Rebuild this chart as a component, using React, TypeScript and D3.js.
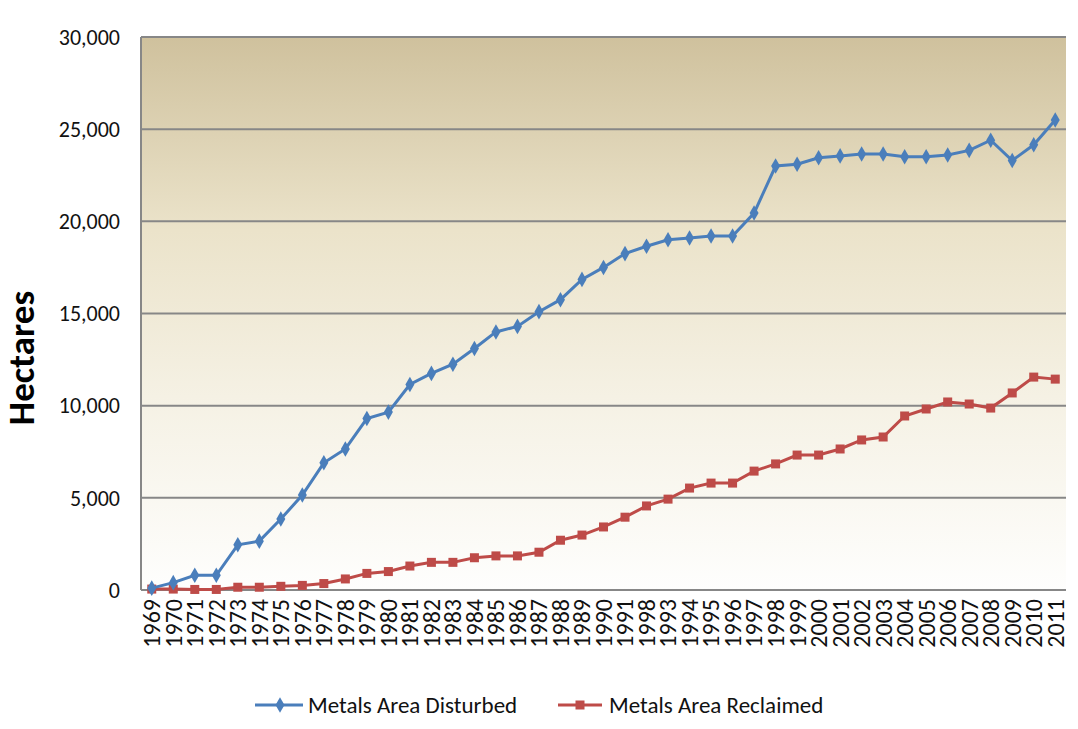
import React from "react"
import * as d3 from "d3"

// x labels as printed in the source (the 1992 slot reads "1998")
const years = [
  "1969", "1970", "1971", "1972", "1973", "1974", "1975", "1976", "1977", "1978",
  "1979", "1980", "1981", "1982", "1983", "1984", "1985", "1986", "1987", "1988",
  "1989", "1990", "1991", "1998", "1993", "1994", "1995", "1996", "1997", "1998",
  "1999", "2000", "2001", "2002", "2003", "2004", "2005", "2006", "2007", "2008",
  "2009", "2010", "2011",
]

const disturbed = [
  100, 400, 800, 800, 2450, 2650, 3850, 5150, 6900, 7650,
  9300, 9650, 11150, 11750, 12250, 13100, 14000, 14300, 15100, 15750,
  16850, 17500, 18250, 18650, 19000, 19100, 19200, 19200, 20450, 23000,
  23100, 23450, 23550, 23650, 23650, 23500, 23500, 23600, 23850, 24400,
  23300, 24150, 25500,
]

const reclaimed = [
  50, 50, 30, 30, 150, 150, 200, 250, 350, 600,
  900, 1000, 1300, 1500, 1500, 1750, 1850, 1850, 2050, 2700,
  2980, 3420, 3950, 4560, 4930, 5530, 5800, 5800, 6450, 6840,
  7320, 7320, 7650, 8140, 8300, 9440, 9820, 10200, 10090, 9870,
  10690, 11550, 11440,
]

const yTicks = [0, 5000, 10000, 15000, 20000, 25000, 30000]

const W = 1078
const H = 729
const margin = { top: 37, right: 12, bottom: 139, left: 141 }
const font = "Carlito, Calibri, 'Liberation Sans', Arial, sans-serif"
const BLUE = "#4a7ebb"
const RED = "#be4b48"

export default function App() {
  const innerW = W - margin.left - margin.right
  const innerH = H - margin.top - margin.bottom

  const x = d3.scaleBand<number>().domain(d3.range(years.length)).range([0, innerW])
  const cx = (i: number) => (x(i) as number) + x.bandwidth() / 2
  const y = d3.scaleLinear().domain([0, 30000]).range([innerH, 0])
  const fmt = d3.format(",")

  const line = d3
    .line<number>()
    .x((_, i) => cx(i))
    .y(d => y(d))

  const diamond = d3.symbol().type(d3.symbolDiamond).size(70)()

  return (
    <svg
      width={W}
      height={H}
      style={{ position: "absolute", left: 0, top: 0, background: "#fff" }}
    >
      <defs>
        <linearGradient id="bg" x1="0" y1="0" x2="0" y2="1">
          <stop offset="0%" stopColor="#cfc19d" />
          <stop offset="35%" stopColor="#ebe3ca" />
          <stop offset="65%" stopColor="#f5f1e4" />
          <stop offset="100%" stopColor="#fefefd" />
        </linearGradient>
      </defs>
      <g transform={`translate(${margin.left},${margin.top})`}>
        <rect width={innerW} height={innerH} fill="url(#bg)" />
        {yTicks.map(t => (
          <g key={t}>
            <line x1={0} x2={innerW} y1={y(t)} y2={y(t)} stroke="#878787" strokeWidth={2} />
            <text
              x={-21}
              y={y(t)}
              dy="0.35em"
              textAnchor="end"
              fontFamily={font}
              fontSize={22}
              fill="#111"
            >
              {fmt(t)}
            </text>
          </g>
        ))}
        <line x1={0} x2={0} y1={0} y2={innerH} stroke="#878787" strokeWidth={2} />
        {years.map((yr, i) => (
          <text
            key={i}
            transform={`translate(${cx(i)},${innerH + 9}) rotate(-90)`}
            dy="0.35em"
            textAnchor="end"
            fontFamily={font}
            fontSize={24}
            fill="#111"
          >
            {yr}
          </text>
        ))}

        <path d={line(reclaimed) as string} fill="none" stroke={RED} strokeWidth={3} />
        {reclaimed.map((v, i) => (
          <rect key={i} x={cx(i) - 4.5} y={y(v) - 4.5} width={9} height={9} fill={RED} />
        ))}

        <path d={line(disturbed) as string} fill="none" stroke={BLUE} strokeWidth={3} />
        {disturbed.map((v, i) => (
          <path
            key={i}
            d={diamond as string}
            transform={`translate(${cx(i)},${y(v)})`}
            fill={BLUE}
          />
        ))}
      </g>

      <text
        transform="translate(34,358) rotate(-90)"
        textAnchor="middle"
        fontFamily={font}
        fontSize={37}
        fontWeight="bold"
        fill="#000"
      >
        Hectares
      </text>

      <g transform="translate(0,705)" fontFamily={font} fontSize={23} fill="#111">
        <line x1={255} x2={303} y1={0} y2={0} stroke={BLUE} strokeWidth={3} />
        <path d={diamond as string} transform="translate(280,0)" fill={BLUE} />
        <text x={308} dy="0.35em">Metals Area Disturbed</text>
        <line x1={558} x2={602} y1={0} y2={0} stroke={RED} strokeWidth={3} />
        <rect x={575.5} y={-4.5} width={9} height={9} fill={RED} />
        <text x={609} dy="0.35em">Metals Area Reclaimed</text>
      </g>
    </svg>
  )
}
